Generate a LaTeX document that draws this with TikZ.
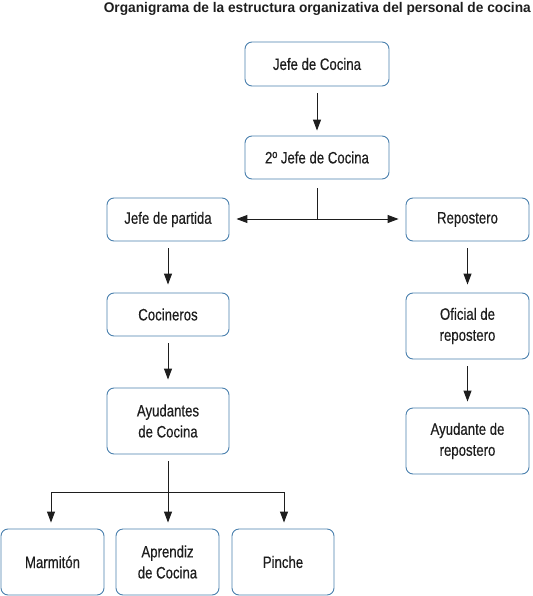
\documentclass[tikz,border=0pt]{standalone}
\usepackage{fontspec}
\setmainfont{Liberation Sans}[FakeStretch=0.8, FakeBold=0.4]
\newfontfamily\titlefont{Liberation Sans}[FakeStretch=0.98]
\usetikzlibrary{arrows.meta}
\definecolor{boxline}{HTML}{4A80AE}
\definecolor{ink}{HTML}{1E1E1E}
\tikzset{
  orgbox/.style={draw=boxline, line width=0.9pt, rounded corners=7pt, fill=white,
    align=center, text=ink, font=\fontsize{16.5}{21}\selectfont, inner sep=0pt},
  conn/.style={draw=ink, line width=1pt},
  arr/.style={conn, -{Triangle[length=11pt,width=8pt]}},
}
\begin{document}
\begin{tikzpicture}[x=1pt,y=-1pt]
\useasboundingbox (0,0) rectangle (532,596);
\node[anchor=east, text=ink, font=\titlefont\fontsize{14}{16}\bfseries\selectfont, inner sep=0pt] (title) at (531,9) {Organigrama de la estructura organizativa del personal de cocina};
\node[orgbox, minimum width=144pt, minimum height=44pt] (jc) at (317,64) {Jefe de Cocina};
\node[orgbox, minimum width=144pt, minimum height=43pt] (j2) at (317,157.5) {2º Jefe de Cocina};
\node[orgbox, minimum width=122pt, minimum height=43pt] (jp) at (168,219.5) {Jefe de partida};
\node[orgbox, minimum width=123pt, minimum height=43pt] (rep) at (467.5,219.5) {Repostero};
\node[orgbox, minimum width=122pt, minimum height=43pt] (coc) at (168,314.5) {Cocineros};
\node[orgbox, minimum width=122pt, minimum height=66pt] (ayu) at (168,421) {Ayudantes\\de Cocina};
\node[orgbox, minimum width=123pt, minimum height=66pt] (of) at (467.5,326) {Oficial de\\repostero};
\node[orgbox, minimum width=123pt, minimum height=66pt] (ayr) at (467.5,441) {Ayudante de\\repostero};
\node[orgbox, minimum width=103pt, minimum height=66pt] (mar) at (52.5,562) {Marmitón};
\node[orgbox, minimum width=103pt, minimum height=66pt] (apr) at (167.5,562) {Aprendiz\\de Cocina};
\node[orgbox, minimum width=102pt, minimum height=66pt] (pin) at (283,562) {Pinche};
% vertical arrows
\draw[arr, shorten <=7pt, shorten >=5pt] (jc) -- (j2);
\draw[arr, shorten <=7pt, shorten >=8pt] (jp) -- (coc);
\draw[arr, shorten <=7pt, shorten >=8pt] (coc) -- (ayu);
\draw[arr, shorten <=7pt, shorten >=8pt] (rep) -- (of);
\draw[arr, shorten <=7pt, shorten >=6pt] (of) -- (ayr);
% branch from 2nd chef
\coordinate (b1) at (317,219);
\draw[conn, shorten <=9pt] (j2.south) -- (b1);
\draw[arr, shorten >=7pt] (b1) -- (jp.east |- b1);
\draw[arr, shorten >=7pt] (b1) -- (rep.west |- b1);
% branch from ayudantes
\coordinate (b2) at (168,492);
\coordinate (bl) at (51,492);
\coordinate (br) at (284,492);
\draw[conn, shorten <=7pt] (ayu.south) -- (b2);
\draw[conn] (bl) -- (br);
\draw[arr, shorten >=6pt] (bl) -- (bl |- mar.north);
\draw[arr, shorten >=6pt] (b2) -- (b2 |- apr.north);
\draw[arr, shorten >=6pt] (br) -- (br |- pin.north);
\end{tikzpicture}
\end{document}
